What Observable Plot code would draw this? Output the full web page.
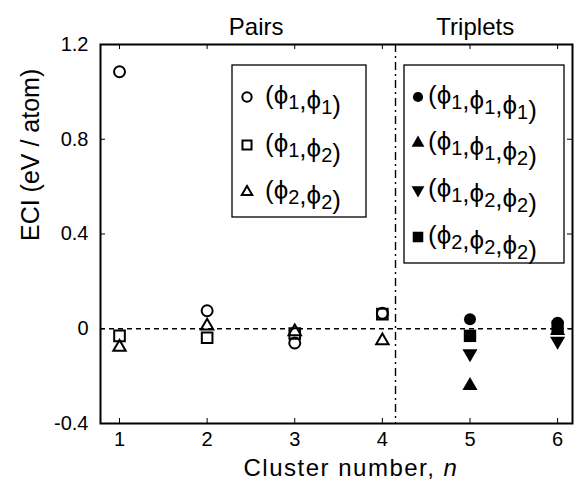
<!DOCTYPE html>
<html>
<head>
<meta charset="utf-8">
<script src="https://cdn.jsdelivr.net/npm/d3@7"></script>
<script src="https://cdn.jsdelivr.net/npm/@observablehq/plot@0.6"></script>
<style>
  body { margin: 0; background: white; }
  #chart svg { display: block; }
</style>
</head>
<body>
<div id="chart"></div>
<script>
// ---- data ----
const pairN = [1, 2, 3, 4];
const tripN = [5, 6];
const phi11 = [1.085, 0.076, -0.060, 0.065];
const phi12 = [-0.030, -0.038, -0.020, 0.062];
const phi22 = [-0.078, 0.012, -0.012, -0.050];
const phi111 = [0.040, 0.025];
const phi112 = [-0.240, -0.008];
const phi122 = [-0.105, -0.052];
const phi222 = [-0.030, 0.008];
const xTicks = [1, 2, 3, 4, 5, 6];
const yTicks = [-0.4, 0, 0.4, 0.8, 1.2];
const yTickLabels = ["-0.4", "0", "0.4", "0.8", "1.2"];
const groupLabels = ["Pairs", "Triplets"];
const groupCenters = [2.56, 5.06];
const divider = 4.15;

const pairSeries = [
  {subs: ["1", "1"], vals: phi11, sym: "circle", filled: false, rot: 0},
  {subs: ["1", "2"], vals: phi12, sym: "square", filled: false, rot: 0},
  {subs: ["2", "2"], vals: phi22, sym: "triangle", filled: false, rot: 0}
];
const tripSeries = [
  {subs: ["1", "1", "1"], vals: phi111, sym: "circle", filled: true, rot: 0},
  {subs: ["1", "1", "2"], vals: phi112, sym: "triangle", filled: true, rot: 0},
  {subs: ["1", "2", "2"], vals: phi122, sym: "triangle", filled: true, rot: 180},
  {subs: ["2", "2", "2"], vals: phi222, sym: "square", filled: true, rot: 0}
];
const sizeOf = {circle: 5.5, square: 6, triangle: 4.6};
const sizeFilled = {circle: 6, square: 7, triangle: 5.6};

const rows = [];
pairSeries.forEach(s => s.vals.forEach((v, i) => rows.push({n: pairN[i], v, ...s})));
tripSeries.forEach(s => s.vals.forEach((v, i) => rows.push({n: tripN[i], v, ...s})));

const W = 576, H = 493;
const mL = 100, mR = 4, mT = 44, mB = 70;
const plotW = W - mL - mR, plotH = H - mT - mB;
const font = "'Liberation Sans', Arial, Helvetica, sans-serif";

const openRows = rows.filter(d => !d.filled);
const fillRows = rows.filter(d => d.filled);

const svg = Plot.plot({
  width: W, height: H,
  marginLeft: mL, marginRight: mR, marginTop: mT, marginBottom: mB,
  x: {domain: [0.783, 6.17]},
  y: {domain: [-0.4, 1.2]},
  r: {type: "identity"},
  style: {fontFamily: font, background: "white", color: "black"},
  marks: [
    Plot.ruleY([0], {stroke: "black", strokeDasharray: "5,4", strokeWidth: 1.4}),
    Plot.ruleX([divider], {stroke: "black", strokeDasharray: "8,4,2,4", strokeWidth: 1.4}),
    Plot.tickY(yTicks, {y: d => d, insetRight: plotW - 5, stroke: "black", strokeWidth: 1}),
    Plot.tickY(yTicks, {y: d => d, insetLeft: plotW - 5, stroke: "black", strokeWidth: 1}),
    Plot.tickX(xTicks, {x: d => d, insetTop: plotH - 5, stroke: "black", strokeWidth: 1}),
    Plot.tickX(xTicks, {x: d => d, insetBottom: plotH - 5, stroke: "black", strokeWidth: 1}),
    Plot.axisY(yTicks, {anchor: "left", tickSize: 0, tickPadding: 12, fontSize: 20, label: null,
      tickFormat: d => yTickLabels[yTicks.indexOf(d)]}),
    Plot.axisX(xTicks, {anchor: "bottom", tickSize: 0, tickPadding: 8, fontSize: 20, label: null,
      tickFormat: d => String(d)}),
    Plot.dot(openRows, {x: "n", y: "v", symbol: "sym", r: d => sizeOf[d.sym],
      fill: "none", stroke: "black", strokeWidth: 2}),
    Plot.dot(fillRows, {x: "n", y: "v", symbol: "sym", r: d => sizeFilled[d.sym], rotate: "rot",
      fill: "black", stroke: "none"}),
    Plot.text(groupLabels, {x: (d, i) => groupCenters[i], frameAnchor: "top", dy: -27, fontSize: 24}),
    Plot.text(["ECI (eV / atom)"], {frameAnchor: "left", rotate: -90, dx: -70, dy: 7, fontSize: 25}),
    Plot.frame({stroke: "black", strokeWidth: 2})
  ]
});

document.getElementById("chart").appendChild(svg);

const root = d3.select(svg);
const xt = root.append("text")
  .attr("x", 351).attr("y", 476)
  .attr("text-anchor", "middle")
  .attr("letter-spacing", 1.5)
  .attr("font-family", font).attr("font-size", 24).attr("fill", "black");
xt.append("tspan").text("Cluster number, ");
xt.append("tspan").attr("font-style", "italic").text("n");

const symMap = {circle: d3.symbolCircle, square: d3.symbolSquare, triangle: d3.symbolTriangle};
function legend(box, series, symX, textX, ys) {
  const g = root.append("g");
  g.append("rect").attr("x", box[0]).attr("y", box[1]).attr("width", box[2]).attr("height", box[3])
    .attr("fill", "white").attr("stroke", "black").attr("stroke-width", 1.3);
  series.forEach((s, i) => {
    const r = (s.filled ? sizeFilled : sizeOf)[s.sym] * 0.85;
    const path = d3.symbol(symMap[s.sym], Math.PI * r * r)();
    g.append("path").attr("d", path)
      .attr("transform", `translate(${symX},${ys[i]}) rotate(${s.rot})`)
      .attr("fill", s.filled ? "black" : "none")
      .attr("stroke", s.filled ? "none" : "black")
      .attr("stroke-width", 2);
    const t = g.append("text").attr("x", textX).attr("y", ys[i] + 7)
      .attr("text-anchor", "start")
      .attr("font-family", font).attr("font-size", 26).attr("fill", "black");
    t.append("tspan").text("(");
    s.subs.forEach((sb, j) => {
      if (j > 0) t.append("tspan").text(",");
      t.append("tspan").text("ϕ");
      t.append("tspan").attr("font-size", 20).attr("dy", 5).text(sb);
      t.append("tspan").attr("dy", -5).text("");
    });
    t.append("tspan").text(")");
  });
}
legend([232, 65, 134, 152], pairSeries, 247, 265, [97, 145, 192]);
legend([404, 65, 160, 198], tripSeries, 418, 428, [97, 143, 190, 237]);
</script>
</body>
</html>
